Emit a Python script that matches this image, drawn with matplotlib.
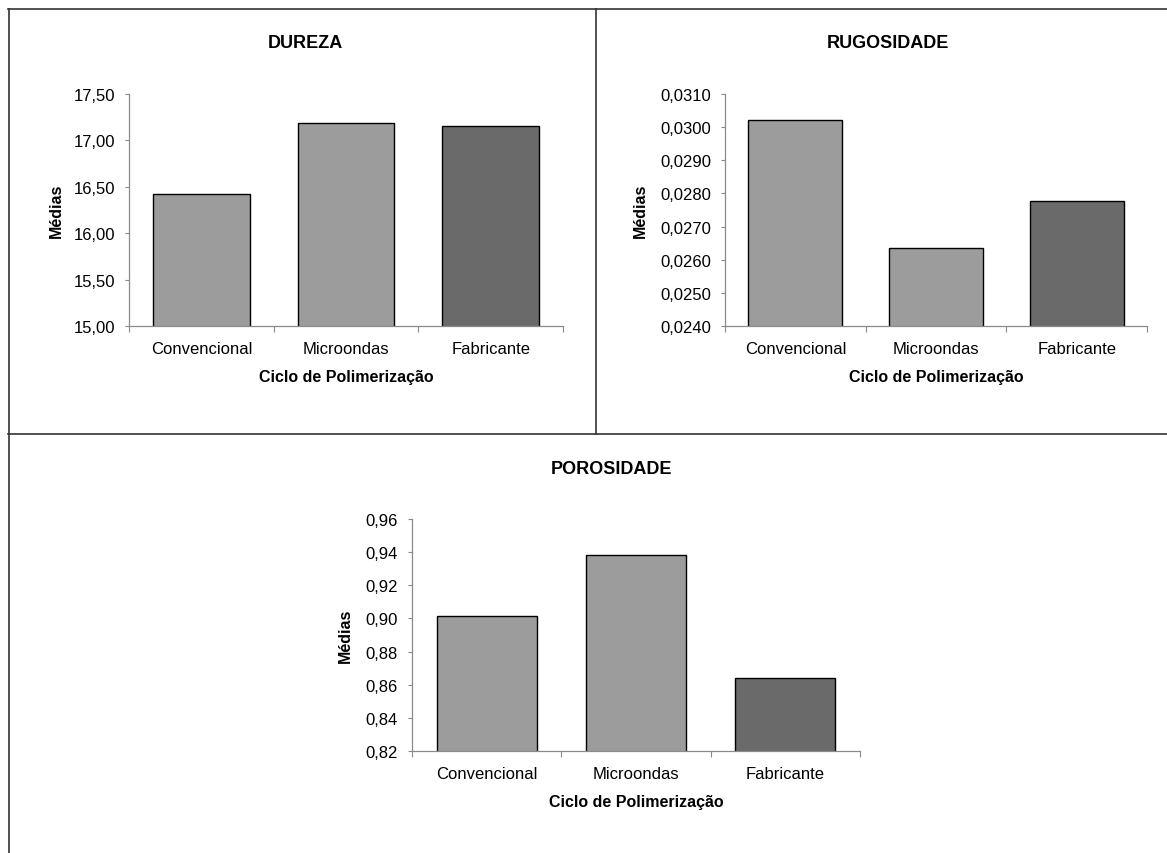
import matplotlib
matplotlib.use('Agg')
import matplotlib.pyplot as plt
from matplotlib.lines import Line2D

plt.rcParams['font.family'] = ['Liberation Sans', 'DejaVu Sans']

categorias = ['Convencional', 'Microondas', 'Fabricante']

dureza = [16.42, 17.19, 17.15]
dureza_ticks = [15.00, 15.50, 16.00, 16.50, 17.00, 17.50]

rugosidade = [0.03022, 0.02636, 0.02777]
rugosidade_ticks = [0.0240, 0.0250, 0.0260, 0.0270, 0.0280, 0.0290, 0.0300, 0.0310]

porosidade = [0.9013, 0.9380, 0.8640]
porosidade_ticks = [0.82, 0.84, 0.86, 0.88, 0.90, 0.92, 0.94, 0.96]

W, H = 1167, 854
fig = plt.figure(figsize=(W / 100, H / 100), dpi=100)

bar_colors = ['#9c9c9c', '#9c9c9c', '#6a6a6a']
axis_gray = '#8a8a8a'


def px_rect(x0, y0, x1, y1):
    # pixel box (top-origin) -> figure fraction
    return [x0 / W, 1 - y1 / H, (x1 - x0) / W, (y1 - y0) / H]


def painel(rect, valores, ticks, decimais, label_x, titulo, titulo_xy):
    ax = fig.add_axes(px_rect(*rect))
    ax.bar(range(len(categorias)), valores, width=0.67, color=bar_colors,
           edgecolor='black', linewidth=1.0)
    ax.set_xlim(-0.5, len(categorias) - 0.5)
    ax.set_ylim(ticks[0], ticks[-1])
    ax.set_yticks(ticks)
    ax.set_yticklabels([f'{t:.{decimais}f}'.replace('.', ',') for t in ticks])
    ax.set_xticks(range(len(categorias)))
    ax.set_xticklabels(categorias)
    ax.set_xticks([i - 0.5 for i in range(len(categorias) + 1)], minor=True)
    ax.tick_params(axis='x', which='major', length=0, pad=11, labelsize=12)
    ax.tick_params(axis='x', which='minor', length=4, width=0.8, color=axis_gray, direction='out')
    ax.tick_params(axis='y', length=3, width=0.8, color=axis_gray, pad=7, labelsize=12)
    for s in ['top', 'right']:
        ax.spines[s].set_visible(False)
    for s in ['left', 'bottom']:
        ax.spines[s].set_color(axis_gray)
        ax.spines[s].set_linewidth(0.9)
    ax.set_ylabel('Médias', fontsize=11.5, fontweight='bold')
    ax.yaxis.set_label_coords(label_x, 0.5)
    ax.set_xlabel('Ciclo de Polimerização', fontsize=11.5, fontweight='bold', labelpad=9)
    fig.text(titulo_xy[0] / W, 1 - titulo_xy[1] / H, titulo, fontsize=13,
             fontweight='bold', ha='center', va='center')
    return ax


painel((129, 95, 563, 327), dureza, dureza_ticks, 2, -0.150, 'DUREZA', (305, 43))
painel((725, 95, 1147, 327), rugosidade, rugosidade_ticks, 4, -0.182, 'RUGOSIDADE', (888, 43))
painel((412, 520, 860, 752), porosidade, porosidade_ticks, 2, -0.132, 'POROSIDADE', (612, 469))

# molduras dos paineis
def linha(x0, y0, x1, y1):
    fig.add_artist(Line2D([x0 / W, x1 / W], [1 - y0 / H, 1 - y1 / H],
                          color='#333333', linewidth=1.2))

linha(8, 10, W, 10)
linha(9, 10, 9, H)
linha(8, 435, W, 435)
linha(596, 10, 596, 435)

fig.savefig('out.png', dpi=100, facecolor='white')
